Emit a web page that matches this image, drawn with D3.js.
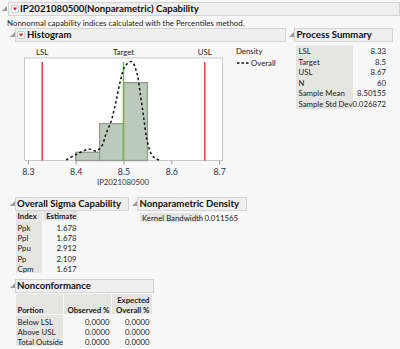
<!DOCTYPE html>
<html>
<head>
<meta charset="utf-8">
<script src="https://cdn.jsdelivr.net/npm/d3@7"></script>
<style>
  html, body { margin: 0; padding: 0; background: #f7f7f7; }
  svg { display: block; font-family: "Segoe UI", Lato, sans-serif; }
</style>
</head>
<body>
<div id="report"></div>
<script>
// histogram bins and counts
var binEdges = [8.40, 8.45, 8.50, 8.55];
var binCounts = [4, 18, 38];
var sampleN = 60;

// nonparametric density (per unit of x)
var densX = [8.380, 8.400, 8.428, 8.443, 8.454, 8.464, 8.475, 8.485, 8.494, 8.503, 8.517, 8.528, 8.535, 8.542, 8.549, 8.559, 8.569, 8.580];
var densY = [0.10, 0.93, 1.85, 1.57, 2.27, 4.45, 6.60, 9.85, 13.1, 15.3, 16.1, 14.2, 10.9, 7.14, 3.36, 0.93, 0.23, 0.0];

var specNames = ["LSL", "Target", "USL"];
var specValues = [8.33, 8.5, 8.67];
var xTicks = [8.3, 8.4, 8.5, 8.6, 8.7];

var summaryLabels = ["LSL", "Target", "USL", "N", "Sample Mean", "Sample Std Dev"];
var summaryValues = ["8.33", "8.5", "8.67", "60", "8.50155", "0.026872"];

var capIndex = ["Ppk", "Ppl", "Ppu", "Pp", "Cpm"];
var capEstimate = ["1.678", "1.678", "2.912", "2.109", "1.617"];

var ncPortion = ["Below LSL", "Above USL", "Total Outside"];
var ncObserved = ["0.0000", "0.0000", "0.0000"];
var ncExpected = ["0.0000", "0.0000", "0.0000"];

var svg = d3.select("#report")
  .append("svg")
  .attr("width", 400)
  .attr("height", 349);

var fs = 7.8;
var hdrFs = 9.6;
var hdrFill = "#efefef", hdrStroke = "#d3d3d3", cellFill = "#e4e4e0";

// outline header with disclosure triangle, optional red menu button
function header(x0, x1, y0, label, tri, btn, textX) {
  svg.append("rect")
    .attr("x", x0 + 0.5).attr("y", y0 + 0.5)
    .attr("width", x1 - x0).attr("height", 13)
    .attr("fill", hdrFill).attr("stroke", hdrStroke);
  svg.append("path")
    .attr("d", "M" + (tri + 4) + "," + (y0 + 4) + "L" + (tri + 4) + "," + (y0 + 9) + "L" + (tri - 1) + "," + (y0 + 9) + "Z")
    .attr("fill", "#9a9a9a");
  if (btn != null) {
    svg.append("rect")
      .attr("x", btn + 0.5).attr("y", y0 + 3.5)
      .attr("width", 7).attr("height", 7).attr("rx", 1.5)
      .attr("fill", "#fff").attr("stroke", "#c8c8c8");
    svg.append("path")
      .attr("d", "M" + (btn + 1.8) + "," + (y0 + 5.5) + "L" + (btn + 6.2) + "," + (y0 + 5.5) + "L" + (btn + 4) + "," + (y0 + 8.8) + "Z")
      .attr("fill", "#d81e2c");
  }
  svg.append("text")
    .attr("x", textX).attr("y", y0 + 10.3)
    .attr("font-size", hdrFs).attr("font-weight", "bold")
    .attr("fill", "#111")
    .text(label);
}

header(8, 399, 2, "IP2021080500(Nonparametric) Capability", 3, 11, 20);
svg.append("text")
  .attr("x", 7).attr("y", 25.5)
  .attr("font-size", 7.9).attr("fill", "#222")
  .text("Nonnormal capability indices calculated with the Percentiles method.");

header(15, 285, 28, "Histogram", 11, 17, 27);
header(294, 392, 28, "Process Summary", 290, null, 296.5);

// ---- histogram ----
var x = d3.scaleLinear().domain([8.293, 8.707]).range([24.5, 222.5]);
var y = d3.scaleLinear().domain([0, 50]).range([160.5, 58]);

svg.append("rect")
  .attr("x", 24.5).attr("y", 58)
  .attr("width", 198).attr("height", 102.5)
  .attr("fill", "#fff").attr("stroke", "#c8c8c8");

var bins = binCounts.map(function(c, i) { return { x0: binEdges[i], x1: binEdges[i + 1], n: c }; });

svg.append("g").selectAll("rect")
  .data(bins)
  .enter()
  .append("rect")
  .attr("x", function(d) { return x(d.x0); })
  .attr("y", function(d) { return y(d.n); })
  .attr("width", function(d) { return x(d.x1) - x(d.x0); })
  .attr("height", function(d) { return y(0) - y(d.n); })
  .attr("fill", "#bccabb")
  .attr("stroke", "#8f9c8e")
  .attr("stroke-width", 1.3);

var specColors = ["#e5323f", "#4cc74c", "#e5323f"];
svg.append("g").selectAll("line")
  .data(specValues)
  .enter()
  .append("line")
  .attr("x1", function(d) { return x(d); })
  .attr("x2", function(d) { return x(d); })
  .attr("y1", 62)
  .attr("y2", y(0))
  .attr("stroke", function(d, i) { return specColors[i]; })
  .attr("stroke-width", 1.4);

svg.append("g").selectAll("text")
  .data(specNames)
  .enter()
  .append("text")
  .attr("x", function(d, i) { return x(specValues[i]); })
  .attr("y", 55)
  .attr("text-anchor", "middle")
  .attr("font-size", fs)
  .attr("fill", "#222")
  .text(function(d) { return d; });

var binWidth = binEdges[1] - binEdges[0];
var line = d3.line()
  .x(function(d) { return x(d[0]); })
  .y(function(d) { return y(d[1] * sampleN * binWidth); })
  .curve(d3.curveCatmullRom);

svg.append("path")
  .datum(densX.map(function(v, i) { return [v, densY[i]]; }))
  .attr("d", line)
  .attr("fill", "none")
  .attr("stroke", "#111")
  .attr("stroke-width", 1.5)
  .attr("stroke-dasharray", "2.5,2.5");

var axis = svg.append("g")
  .attr("transform", "translate(0," + y(0) + ")")
  .call(d3.axisBottom(x).tickValues(xTicks).tickSize(4).tickFormat(d3.format(".1f")));
axis.select(".domain").remove();
axis.selectAll("line").attr("stroke", "#999");
axis.selectAll("text")
  .attr("font-size", 8.8)
  .attr("font-family", "\"Segoe UI\", Lato, sans-serif")
  .attr("fill", "#333")
  .attr("dy", "0.85em");

svg.append("text")
  .attr("x", 123).attr("y", 185)
  .attr("text-anchor", "middle")
  .attr("font-size", fs).attr("fill", "#333")
  .text("IP2021080500");

// legend
svg.append("text").attr("x", 236).attr("y", 54).attr("font-size", fs).attr("fill", "#222").text("Density");
svg.append("line")
  .attr("x1", 237).attr("x2", 250).attr("y1", 63).attr("y2", 63)
  .attr("stroke", "#111").attr("stroke-width", 1.3).attr("stroke-dasharray", "2.5,2");
svg.append("text").attr("x", 251).attr("y", 66).attr("font-size", fs).attr("fill", "#222").text("Overall");

// ---- tables ----
function labelCol(x0, x1, yTop, rows, rowH) {
  svg.append("rect")
    .attr("x", x0).attr("y", yTop)
    .attr("width", x1 - x0).attr("height", rows * rowH)
    .attr("fill", cellFill);
}

// process summary
var rowH = 10.6;
labelCol(296, 353, 45.5, summaryLabels.length, rowH);
svg.append("g").selectAll("text")
  .data(summaryLabels)
  .enter()
  .append("text")
  .attr("x", 298.5)
  .attr("y", function(d, i) { return 54 + i * rowH; })
  .attr("font-size", fs).attr("fill", "#222")
  .text(function(d) { return d; });
svg.append("g").selectAll("text")
  .data(summaryValues)
  .enter()
  .append("text")
  .attr("x", 386)
  .attr("y", function(d, i) { return 54 + i * rowH; })
  .attr("text-anchor", "end")
  .attr("font-size", fs).attr("fill", "#222")
  .text(function(d) { return d; });

// overall sigma capability
header(15, 128, 197, "Overall Sigma Capability", 11, null, 17);
header(137, 246, 197, "Nonparametric Density", 133, null, 139.5);

svg.append("rect").attr("x", 16).attr("y", 211).attr("width", 26).attr("height", 9.5).attr("fill", cellFill);
svg.append("rect").attr("x", 43).attr("y", 211).attr("width", 35).attr("height", 9.5).attr("fill", cellFill);
svg.append("text").attr("x", 17.5).attr("y", 218.5).attr("font-size", fs).attr("font-weight", "bold").attr("fill", "#222").text("Index");
svg.append("text").attr("x", 76.5).attr("y", 218.5).attr("text-anchor", "end").attr("font-size", fs).attr("font-weight", "bold").attr("fill", "#222").text("Estimate");

var capH = 10.35;
labelCol(16, 42, 221, capIndex.length, capH);
svg.append("g").selectAll("text")
  .data(capIndex)
  .enter()
  .append("text")
  .attr("x", 17.5)
  .attr("y", function(d, i) { return 230.5 + i * capH; })
  .attr("font-size", fs).attr("fill", "#222")
  .text(function(d) { return d; });
svg.append("g").selectAll("text")
  .data(capEstimate)
  .enter()
  .append("text")
  .attr("x", 76.5)
  .attr("y", function(d, i) { return 230.5 + i * capH; })
  .attr("text-anchor", "end")
  .attr("font-size", fs).attr("fill", "#222")
  .text(function(d) { return d; });

// nonparametric density
svg.append("rect").attr("x", 140).attr("y", 213).attr("width", 62).attr("height", 9).attr("fill", cellFill);
svg.append("text").attr("x", 142).attr("y", 220.5).attr("font-size", fs).attr("fill", "#222").text("Kernel Bandwidth");
svg.append("text").attr("x", 204.5).attr("y", 220.5).attr("font-size", fs).attr("fill", "#222").text("0.011565");

// nonconformance
header(15, 153, 279, "Nonconformance", 11, null, 17);
svg.append("rect").attr("x", 16).attr("y", 294).attr("width", 47).attr("height", 20).attr("fill", cellFill);
svg.append("rect").attr("x", 64).attr("y", 294).attr("width", 47).attr("height", 20).attr("fill", cellFill);
svg.append("rect").attr("x", 112).attr("y", 294).attr("width", 40).attr("height", 20).attr("fill", cellFill);
svg.append("text").attr("x", 149.5).attr("y", 302.5).attr("text-anchor", "end").attr("font-size", fs).attr("font-weight", "bold").attr("fill", "#222").text("Expected");
svg.append("text").attr("x", 17.5).attr("y", 312.5).attr("font-size", fs).attr("font-weight", "bold").attr("fill", "#222").text("Portion");
svg.append("text").attr("x", 109.5).attr("y", 312.5).attr("text-anchor", "end").attr("font-size", fs).attr("font-weight", "bold").attr("fill", "#222").text("Observed %");
svg.append("text").attr("x", 149.5).attr("y", 312.5).attr("text-anchor", "end").attr("font-size", fs).attr("font-weight", "bold").attr("fill", "#222").text("Overall %");

var ncH = 10.3;
labelCol(16, 63, 315, ncPortion.length, ncH);
ncPortion.forEach(function(p, i) {
  var yy = 324.5 + i * ncH;
  svg.append("text").attr("x", 17.5).attr("y", yy).attr("font-size", fs).attr("fill", "#222").text(p);
  svg.append("text").attr("x", 109.5).attr("y", yy).attr("text-anchor", "end").attr("font-size", fs).attr("fill", "#222").text(ncObserved[i]);
  svg.append("text").attr("x", 149.5).attr("y", yy).attr("text-anchor", "end").attr("font-size", fs).attr("font-weight", null).attr("fill", "#222").text(ncExpected[i]);
});
</script>
</body>
</html>
